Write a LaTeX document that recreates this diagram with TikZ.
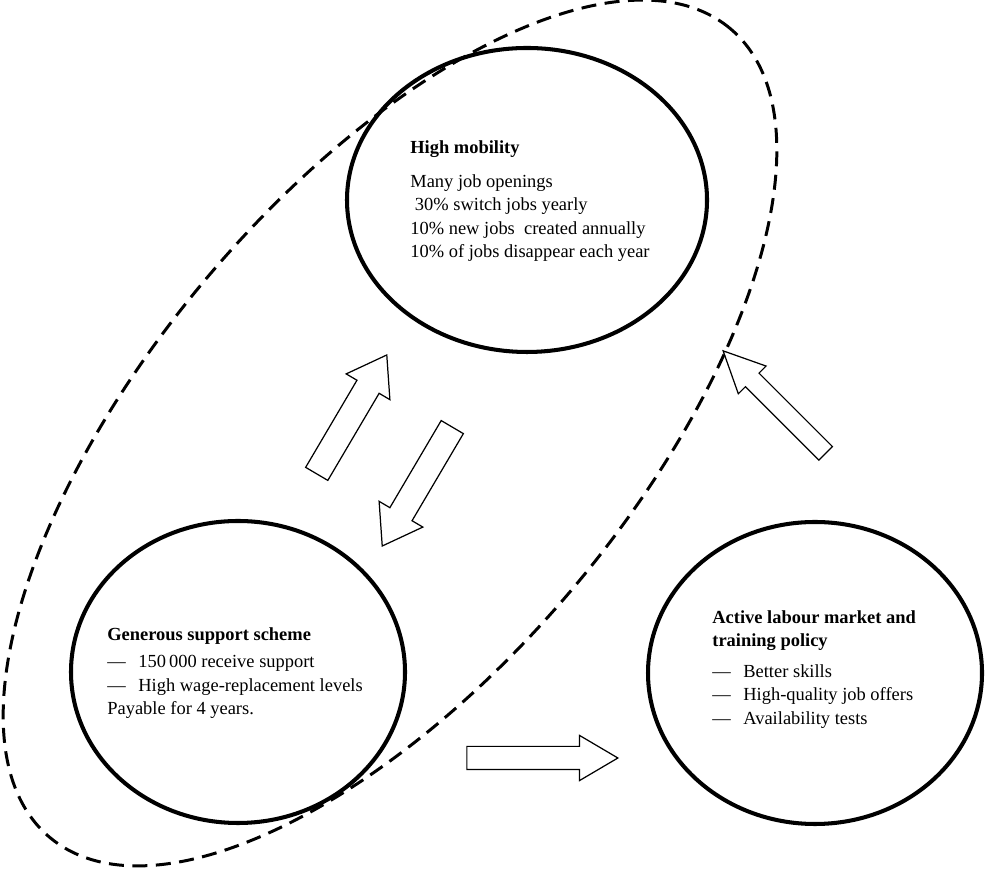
\documentclass[tikz,border=0pt]{standalone}
\usepackage{fontspec}
\setmainfont{Liberation Serif}
\usepackage{tikz}
\usetikzlibrary{shapes.geometric,shapes.arrows}

\newcommand{\dashitem}{\makebox[0.62cm][l]{---}}

\begin{document}
\begin{tikzpicture}[
    circ/.style={draw, ellipse, line width=2.3pt, inner sep=0pt},
    txt/.style={anchor=north west, inner sep=0pt, align=left, font=\fontsize{10.5pt}{13.4pt}\selectfont},
    blockarr/.style={draw, single arrow, line width=0.7pt, inner xsep=0pt, single arrow head indent=0pt},
  ]
    \useasboundingbox (0,0) rectangle (19.7,17.42);

    % the three circles
    \node[circ, minimum width=7.2cm, minimum height=6.08cm] (mob) at (10.54,13.42) {};
    \node[circ, minimum width=6.68cm, minimum height=6.04cm] (sup) at (4.76,3.98) {};
    \node[circ, minimum width=6.68cm, minimum height=6.04cm] (alm) at (16.30,3.96) {};

    % dashed ring round mobility and support
    \node[draw, ellipse, dash pattern=on 0.3cm off 0.17cm, line width=1.7pt,
          minimum width=21.14cm, minimum height=9.6cm, rotate=49.9] (ring) at (7.80,8.76) {};

    \node[txt] (mobtxt) at (8.2,14.62)
      {\textbf{High mobility}\\[0.21cm]
       Many job openings\\
       \ 30\% switch jobs yearly\\
       10\% new jobs\ \ created annually\\
       10\% of jobs disappear each year};
    \node[txt] (suptxt) at (2.14,4.88)
      {\textbf{Generous support scheme}\\[0.08cm]
       \dashitem 150\,000 receive support\\
       \dashitem High wage-replacement levels\\
       Payable for 4 years.};
    \node[txt] (almtxt) at (14.24,5.22)
      {\textbf{Active labour market and}\\
       \textbf{training policy}\\[0.14cm]
       \dashitem Better skills\\
       \dashitem High-quality job offers\\
       \dashitem Availability tests};

    % block arrows between the circles
    \node[blockarr, inner ysep=0.245cm, single arrow head extend=0.25cm, single arrow tip angle=69,
          minimum height=2.76cm, rotate=59.5] (up) at (6.94,8.97) {};
    \node[blockarr, inner ysep=0.245cm, single arrow head extend=0.25cm, single arrow tip angle=69,
          minimum height=2.76cm, rotate=239.5] (down) at (8.44,7.85) {};
    \node[blockarr, inner ysep=0.18cm, single arrow head extend=0.2cm, single arrow tip angle=51,
          minimum height=2.9cm, rotate=135] (back) at (15.63,9.235) {};
    \node[blockarr, inner ysep=0.22cm, single arrow head extend=0.22cm, single arrow tip angle=61,
          minimum height=3.02cm] (fwd) at (10.65,2.26) {};
  \end{tikzpicture}
\end{document}
